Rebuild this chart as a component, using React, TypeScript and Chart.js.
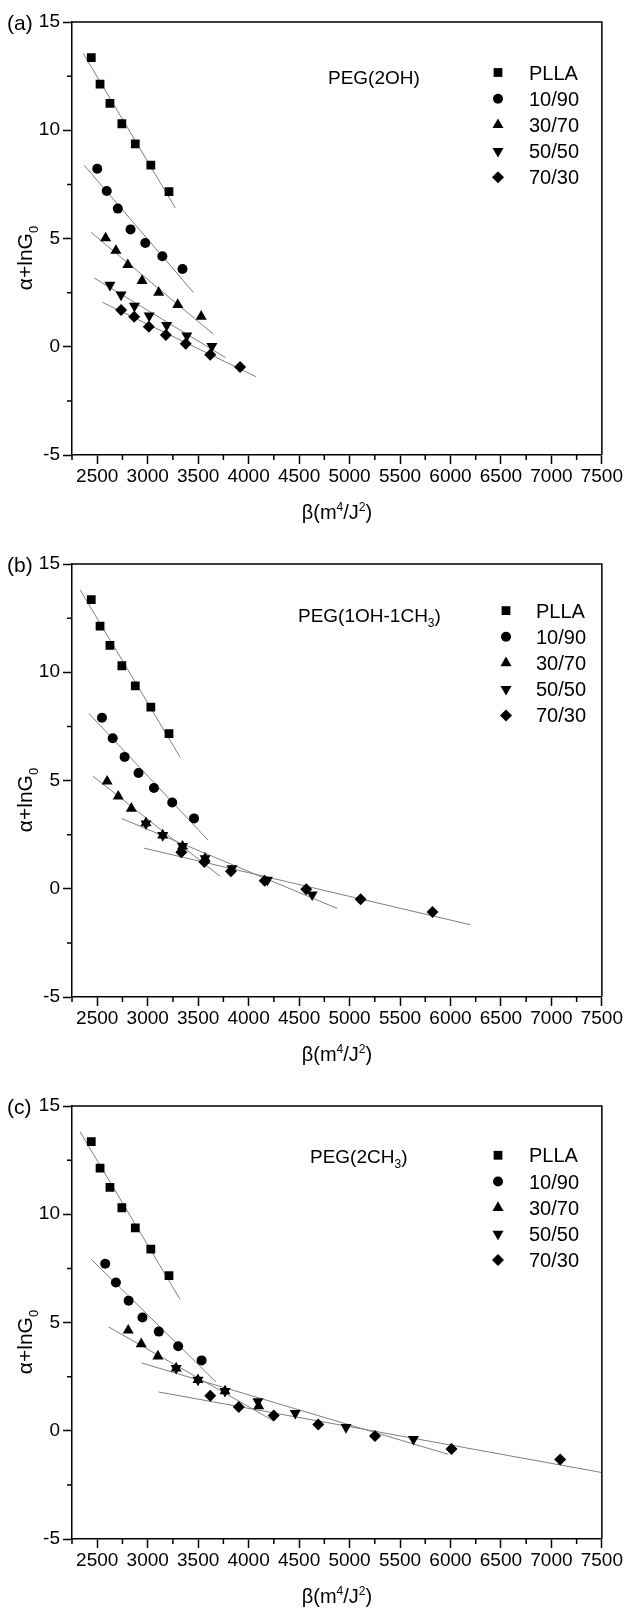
import React, { useEffect, useRef } from 'react';
import { Chart, registerables } from 'chart.js';
import { drawPoint } from 'chart.js/helpers';

Chart.register(...registerables);

// ---------------- data ----------------
const seriesNames = ['PLLA', '10/90', '30/70', '50/50', '70/30'];

const xTickValues = [2500, 3000, 3500, 4000, 4500, 5000, 5500, 6000, 6500, 7000, 7500];
const xMinorTickValues = [2250, 2750, 3250, 3750, 4250, 4750, 5250, 5750, 6250, 6750, 7250];
const yTickValues = [-5, 0, 5, 10, 15];
const yMinorTickValues = [-2.5, 2.5, 7.5, 12.5];

// PLLA (same sample in every panel)
const pllaX = [2441, 2528, 2626, 2744, 2877, 3031, 3211];
const pllaY = [13.35, 12.13, 11.24, 10.3, 9.37, 8.39, 7.16];

// (a) PEG(2OH)
const a1090X = [2500, 2594, 2704, 2830, 2976, 3145, 3345];
const a1090Y = [8.22, 7.19, 6.38, 5.42, 4.79, 4.18, 3.59];
const a3070X = [2583, 2685, 2803, 2944, 3109, 3298, 3530];
const a3070Y = [5.02, 4.44, 3.78, 3.05, 2.5, 1.94, 1.4];
const a5050X = [2626, 2736, 2869, 3015, 3188, 3388, 3636];
const a5050Y = [2.85, 2.4, 1.88, 1.43, 0.99, 0.51, 0.02];
const a7030X = [2736, 2866, 3011, 3180, 3377, 3620, 3915];
const a7030Y = [1.7, 1.38, 0.92, 0.54, 0.14, -0.37, -0.94];
// fitted lines (a): start / end
const aFitX = [[2361, 3274], [2371, 3453], [2437, 3649], [2469, 3771], [2552, 4072]];
const aFitY = [[13.55, 6.41], [8.38, 2.51], [5.29, 0.59], [3.18, -0.5], [2.05, -1.38]];

// (b) PEG(1OH-1CH3)
const b1090X = [2547, 2653, 2771, 2909, 3062, 3243, 3459];
const b1090Y = [7.9, 6.95, 6.09, 5.35, 4.65, 3.98, 3.25];
const b3070X = [2598, 2708, 2838, 2983, 3149, 3345, 3569];
const b3070Y = [4.96, 4.27, 3.71, 3.04, 2.47, 1.96, 1.4];
const b5050X = [2983, 3149, 3345, 3569, 3836, 4186, 4630];
const b5050Y = [3.01, 2.47, 1.96, 1.4, 0.94, 0.41, -0.27];
const b7030X = [3333, 3561, 3825, 4159, 4571, 5110, 5822];
const b7030Y = [1.69, 1.24, 0.81, 0.37, -0.02, -0.48, -1.07];
const bFitX = [[2331, 3322], [2417, 3597], [2457, 3719], [2744, 4878], [2960, 6195]];
const bFitY = [[13.8, 6.07], [8.1, 2.25], [5.2, 0.57], [3.24, -0.91], [1.88, -1.66]];

// (c) PEG(2CH3)
const c1090X = [2579, 2685, 2811, 2948, 3110, 3302, 3534];
const c1090Y = [7.71, 6.85, 6.01, 5.23, 4.58, 3.9, 3.25];
const c3070X = [2807, 2936, 3101, 3282, 3498, 3766, 4100];
const c3070Y = [4.64, 4.01, 3.44, 2.89, 2.35, 1.83, 1.14];
const c5050X = [3282, 3498, 3766, 4092, 4462, 4965, 5633];
const c5050Y = [2.89, 2.35, 1.83, 1.35, 0.81, 0.16, -0.39];
const c7030X = [3620, 3903, 4249, 4690, 5252, 6010, 7087];
const c7030Y = [1.62, 1.1, 0.7, 0.29, -0.24, -0.84, -1.33];
const cFitX = [[2331, 3322], [2441, 3679], [2614, 4249], [2940, 5979], [3109, 7500]];
const cFitY = [[13.8, 6.06], [7.92, 2.24], [4.79, 0.45], [3.13, -1.09], [1.79, -1.93]];

// ---------------- styles ----------------
const FONT = "'Liberation Sans', Arial, Helvetica, sans-serif";
const NARROW = "'Liberation Sans Narrow', 'Arial Narrow', 'Liberation Sans', Arial, sans-serif";

const markerStyles = [
  { pointStyle: 'rect', radius: 6.2, rotation: 0 },
  { pointStyle: 'circle', radius: 5, rotation: 0 },
  { pointStyle: 'triangle', radius: 6.4, rotation: 0 },
  { pointStyle: 'triangle', radius: 6.4, rotation: 180 },
  { pointStyle: 'rectRot', radius: 6, rotation: 0 },
];

type Part = { text: string; size: number; dy: number };

type Panel = {
  tag: string;
  title: Part[];
  titleX: number;
  titleY: number;
  legendMarkerX: number;
  legendTextX: number;
  legendY0: number;
  top: number;
  xs: number[][];
  ys: number[][];
  fitX: number[][];
  fitY: number[][];
};

const panels: Panel[] = [
  {
    tag: '(a)',
    title: [{ text: 'PEG(2OH)', size: 19, dy: 0 }],
    titleX: 328, titleY: 77,
    legendMarkerX: 498, legendTextX: 529, legendY0: 72.5,
    top: 0,
    xs: [pllaX, a1090X, a3070X, a5050X, a7030X],
    ys: [pllaY, a1090Y, a3070Y, a5050Y, a7030Y],
    fitX: aFitX, fitY: aFitY,
  },
  {
    tag: '(b)',
    title: [
      { text: 'PEG(1OH-1CH', size: 19, dy: 0 },
      { text: '3', size: 12, dy: 5 },
      { text: ')', size: 19, dy: 0 },
    ],
    titleX: 298, titleY: 73,
    legendMarkerX: 506, legendTextX: 536, legendY0: 68.6,
    top: 542,
    xs: [pllaX, b1090X, b3070X, b5050X, b7030X],
    ys: [pllaY, b1090Y, b3070Y, b5050Y, b7030Y],
    fitX: bFitX, fitY: bFitY,
  },
  {
    tag: '(c)',
    title: [
      { text: 'PEG(2CH', size: 19, dy: 0 },
      { text: '3', size: 12, dy: 5 },
      { text: ')', size: 19, dy: 0 },
    ],
    titleX: 310, titleY: 72,
    legendMarkerX: 498, legendTextX: 529, legendY0: 71.3,
    top: 1084,
    xs: [pllaX, c1090X, c3070X, c5050X, c7030X],
    ys: [pllaY, c1090Y, c3070Y, c5050Y, c7030Y],
    fitX: cFitX, fitY: cFitY,
  },
];

const CANVAS_W = 624;
const CANVAS_H = 526;

function drawRich(ctx: CanvasRenderingContext2D, parts: Part[], x: number, y: number, align: 'left' | 'center') {
  let total = 0;
  const widths = parts.map((p) => {
    ctx.font = `${p.size}px ${FONT}`;
    const w = ctx.measureText(p.text).width;
    total += w;
    return w;
  });
  let cx = align === 'center' ? x - total / 2 : x;
  ctx.textAlign = 'left';
  ctx.textBaseline = 'alphabetic';
  parts.forEach((p, i) => {
    ctx.font = `${p.size}px ${FONT}`;
    ctx.fillText(p.text, cx, y + p.dy);
    cx += widths[i];
  });
}

function makeDecor(panel: Panel) {
  return {
    id: 'decor',
    afterDraw(chart: any) {
      const ctx: CanvasRenderingContext2D = chart.ctx;
      const ca = chart.chartArea;
      const xs = chart.scales.x;
      const ys = chart.scales.y;
      ctx.save();
      ctx.strokeStyle = '#000';
      ctx.fillStyle = '#000';
      ctx.lineWidth = 1.5;
      // top & right frame
      ctx.beginPath();
      ctx.moveTo(ca.left, ca.top);
      ctx.lineTo(ca.right, ca.top);
      ctx.lineTo(ca.right, ca.bottom);
      ctx.stroke();
      // minor ticks
      ctx.beginPath();
      for (const v of xMinorTickValues) {
        const px = xs.getPixelForValue(v);
        ctx.moveTo(px, ca.bottom);
        ctx.lineTo(px, ca.bottom + 5);
      }
      for (const v of yMinorTickValues) {
        const py = ys.getPixelForValue(v);
        ctx.moveTo(ca.left, py);
        ctx.lineTo(ca.left - 5, py);
      }
      ctx.stroke();

      // panel tag
      ctx.font = `21px ${FONT}`;
      ctx.textAlign = 'left';
      ctx.textBaseline = 'alphabetic';
      ctx.fillText(panel.tag, 7, 30);

      // inner title
      drawRich(ctx, panel.title, panel.titleX, panel.titleY + 7, 'left');

      // legend
      seriesNames.forEach((name, i) => {
        const y = panel.legendY0 + i * 26.2;
        const st = markerStyles[i];
        ctx.fillStyle = '#000';
        drawPoint(ctx, { pointStyle: st.pointStyle as any, rotation: st.rotation, radius: st.radius, borderWidth: 0 }, panel.legendMarkerX, y);
        ctx.font = `20px ${FONT}`;
        ctx.textAlign = 'left';
        ctx.textBaseline = 'alphabetic';
        ctx.fillText(name, panel.legendTextX, y + 7);
      });

      // x axis title
      ctx.fillStyle = '#000';
      drawRich(
        ctx,
        [
          { text: 'β(m', size: 20, dy: 0 },
          { text: '4', size: 12, dy: -8 },
          { text: '/J', size: 20, dy: 0 },
          { text: '2', size: 12, dy: -8 },
          { text: ')', size: 20, dy: 0 },
        ],
        (ca.left + ca.right) / 2,
        519,
        'center'
      );

      // y axis title (rotated)
      ctx.save();
      ctx.translate(25, 258);
      ctx.rotate(-Math.PI / 2);
      drawRich(
        ctx,
        [
          { text: 'α+lnG', size: 21, dy: 0 },
          { text: '0', size: 13, dy: 6 },
        ],
        0,
        7,
        'center'
      );
      ctx.restore();
      ctx.restore();
    },
  };
}

function buildConfig(panel: Panel): any {
  const datasets: any[] = [];
  panel.fitX.forEach((fx, i) => {
    datasets.push({
      label: 'fit ' + seriesNames[i],
      data: fx.map((x, j) => ({ x, y: panel.fitY[i][j] })),
      showLine: true,
      borderColor: '#7f7f7f',
      borderWidth: 1,
      pointRadius: 0,
      order: 2,
    });
  });
  panel.xs.forEach((xArr, i) => {
    const st = markerStyles[i];
    datasets.push({
      label: seriesNames[i],
      data: xArr.map((x, j) => ({ x, y: panel.ys[i][j] })),
      showLine: false,
      pointStyle: st.pointStyle,
      pointRadius: st.radius,
      pointRotation: st.rotation,
      pointBackgroundColor: '#000',
      pointBorderColor: '#000',
      pointBorderWidth: 0,
      backgroundColor: '#000',
      borderColor: '#000',
      order: 1,
    });
  });

  return {
    type: 'scatter',
    data: { datasets },
    options: {
      responsive: false,
      maintainAspectRatio: false,
      animation: false,
      events: [],
      layout: { padding: { top: 22, right: 18, left: 0, bottom: 0 } },
      plugins: { legend: { display: false }, tooltip: { enabled: false } },
      scales: {
        x: {
          type: 'linear',
          min: 2250,
          max: 7500,
          afterBuildTicks: (s: any) => {
            s.ticks = xTickValues.map((v) => ({ value: v }));
          },
          afterFit: (s: any) => {
            s.height = 71;
          },
          ticks: {
            font: { family: NARROW, size: 19 },
            color: '#000',
            padding: 1,
            maxRotation: 0,
            autoSkip: false,
            callback: (v: any) => String(v),
          },
          grid: { drawOnChartArea: false, drawTicks: true, tickLength: 9, tickColor: '#000', tickWidth: 1.5 },
          border: { display: true, color: '#000', width: 1.5 },
        },
        y: {
          type: 'linear',
          min: -5,
          max: 15,
          afterBuildTicks: (s: any) => {
            s.ticks = yTickValues.map((v) => ({ value: v }));
          },
          afterFit: (s: any) => {
            s.width = 72;
          },
          ticks: {
            font: { family: NARROW, size: 19 },
            color: '#000',
            padding: 3,
            autoSkip: false,
            callback: (v: any) => String(v),
          },
          grid: { drawOnChartArea: false, drawTicks: true, tickLength: 9, tickColor: '#000', tickWidth: 1.5 },
          border: { display: true, color: '#000', width: 1.5 },
        },
      },
    },
    plugins: [makeDecor(panel)],
  };
}

function PanelChart({ panel }: { panel: Panel }) {
  const ref = useRef<HTMLCanvasElement | null>(null);
  useEffect(() => {
    if (!ref.current) return;
    const chart = new Chart(ref.current, buildConfig(panel));
    return () => chart.destroy();
  }, [panel]);
  return (
    <canvas
      ref={ref}
      width={CANVAS_W}
      height={CANVAS_H}
      style={{ position: 'absolute', left: 0, top: panel.top, width: CANVAS_W, height: CANVAS_H, display: 'block' }}
    />
  );
}

export default function App() {
  return (
    <div style={{ position: 'absolute', left: 0, top: 0, width: 624, height: 1610, background: '#fff' }}>
      {panels.map((p) => (
        <PanelChart key={p.tag} panel={p} />
      ))}
    </div>
  );
}
